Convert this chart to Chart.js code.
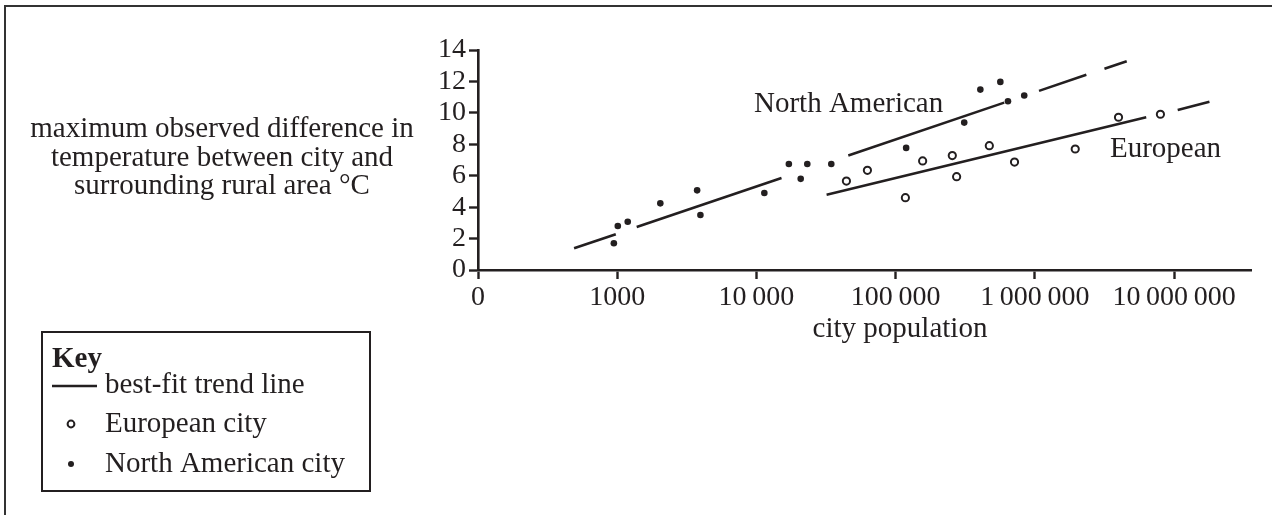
<!DOCTYPE html>
<html><head><meta charset="utf-8">
<script src="https://cdn.jsdelivr.net/npm/chart.js@4.4.0/dist/chart.umd.min.js"></script>
<style>html,body{margin:0;padding:0;background:#fff;}#wrap{position:relative;width:1272px;height:515px;}canvas{display:block}</style>
</head><body><div id="wrap"><canvas id="c" width="1272" height="515"></canvas></div>
<script>
// ---- data ----
const xTickValues = [100, 1000, 10000, 100000, 1000000, 10000000];
const xTickLabels = ['0', '1000', '10\u2009000', '100\u2009000', '1\u2009000\u2009000', '10\u2009000\u2009000'];
const yTickValues = [0, 2, 4, 6, 8, 10, 12, 14];

const naPopulation = [946, 1010, 1190, 2040, 3750, 3960, 11400, 17100, 20800, 23200, 34500, 119000, 311000, 406000, 565000, 641000, 839000];
const naTemp       = [1.70, 2.80, 3.07, 4.24, 5.07, 3.50, 4.90, 6.75, 5.80, 6.75, 6.75, 7.77, 9.38, 11.48, 11.97, 10.74, 11.10];

const euPopulation = [44300, 62700, 117500, 156300, 255300, 274200, 471000, 714500, 1950000, 3990000, 7980000];
const euTemp       = [5.66, 6.34, 4.60, 6.94, 7.28, 5.94, 7.91, 6.87, 7.70, 9.72, 9.91];

// trend line pieces: consecutive pairs are start/end of a drawn piece
const naTrendPopulation = [490, 977, 1380, 15140, 45700, 602600, 1071500, 2344000, 3162000, 4571000];
const naTrendTemp       = [1.38, 2.28, 2.73, 5.85, 7.29, 10.65, 11.40, 12.42, 12.81, 13.29];
const euTrendPopulation = [31920, 6310000, 10620000, 17950000];
const euTrendTemp       = [4.79, 9.72, 10.18, 10.71];

const yTitleLines = ['maximum observed difference in', 'temperature between city and', 'surrounding rural area \u00B0C'];
const xTitle = 'city population';

// ---- styling ----
const ink = '#231f20';
const FONT = "'Liberation Serif', 'Times New Roman', serif";
Chart.defaults.font.family = FONT;
Chart.defaults.font.size = 28;
Chart.defaults.color = ink;

function trendPieces(xs, ys) {
  const out = [];
  for (let i = 0; i + 1 < xs.length; i += 2) {
    out.push({
      data: [{x: xs[i], y: ys[i]}, {x: xs[i + 1], y: ys[i + 1]}],
      showLine: true, borderColor: ink, borderWidth: 2.6, pointRadius: 0,
      borderCapStyle: 'butt', fill: false
    });
  }
  return out;
}

const datasets = [
  ...trendPieces(naTrendPopulation, naTrendTemp),
  ...trendPieces(euTrendPopulation, euTrendTemp),
  {
    label: 'European city',
    data: euPopulation.map((p, i) => ({x: p, y: euTemp[i]})),
    pointRadius: 3.6, pointBorderWidth: 2, pointBackgroundColor: '#fff', pointBorderColor: ink, showLine: false
  },
  {
    label: 'North American city',
    data: naPopulation.map((p, i) => ({x: p, y: naTemp[i]})),
    pointRadius: 3.3, pointBorderWidth: 0, pointBackgroundColor: ink, pointBorderColor: ink, showLine: false
  }
];

const deco = {
  id: 'deco',
  afterDraw(chart) {
    const ctx = chart.ctx;
    ctx.save();
    // outer frame (top and left edges)
    ctx.strokeStyle = '#333'; ctx.lineWidth = 2;
    ctx.beginPath(); ctx.moveTo(5, 515); ctx.lineTo(5, 6); ctx.lineTo(1272, 6); ctx.stroke();

    ctx.fillStyle = ink;
    ctx.font = '29px ' + FONT;
    ctx.textBaseline = 'alphabetic';
    ctx.textAlign = 'center';
    yTitleLines.forEach((t, i) => ctx.fillText(t, 222, 137 + i * 28.5));
    ctx.fillText(xTitle, 900, 337);

    ctx.textAlign = 'left';
    ctx.fillText('North American', 754, 112);
    ctx.fillText('European', 1110, 157);

    // key
    ctx.strokeStyle = ink; ctx.lineWidth = 2;
    ctx.strokeRect(42, 332, 328, 159);
    ctx.font = 'bold 29px ' + FONT;
    ctx.fillText('Key', 52, 367);
    ctx.font = '29px ' + FONT;
    ctx.lineWidth = 2.4;
    ctx.beginPath(); ctx.moveTo(52, 386); ctx.lineTo(97, 386); ctx.stroke();
    ctx.fillText('best-fit trend line', 105, 393);
    ctx.lineWidth = 2;
    ctx.beginPath(); ctx.arc(71, 424, 3.4, 0, Math.PI * 2); ctx.stroke();
    ctx.fillText('European city', 105, 432);
    ctx.beginPath(); ctx.arc(71, 464, 3, 0, Math.PI * 2); ctx.fill();
    ctx.fillText('North American city', 105, 472);
    ctx.restore();
  }
};

new Chart(document.getElementById('c'), {
  type: 'scatter',
  data: {datasets},
  plugins: [deco],
  options: {
    responsive: false,
    animation: false,
    events: [],
    layout: {padding: {left: 418, right: 21, top: 50, bottom: 185}},
    plugins: {legend: {display: false}, tooltip: {enabled: false}},
    scales: {
      x: {
        type: 'logarithmic', position: 'bottom',
        min: 100, max: 35700000,
        afterBuildTicks: s => { s.ticks = xTickValues.map(v => ({value: v})); },
        afterFit: s => { s.height = 60; },
        ticks: {
          autoSkip: false, maxRotation: 0, minRotation: 0, padding: 2, color: ink,
          font: {size: 28, family: FONT},
          callback: (v, i) => xTickLabels[i]
        },
        grid: {drawOnChartArea: false, drawTicks: true, tickLength: 9, tickWidth: 2.4, tickColor: ink},
        border: {display: true, color: ink, width: 2.6}
      },
      y: {
        type: 'linear', position: 'left',
        min: 0, max: 14,
        afterBuildTicks: s => { s.ticks = yTickValues.map(v => ({value: v})); },
        afterFit: s => { s.width = 60; },
        ticks: {autoSkip: false, padding: 3, color: ink, font: {size: 28, family: FONT}, callback: v => String(v)},
        grid: {drawOnChartArea: false, drawTicks: true, tickLength: 9, tickWidth: 2.4, tickColor: ink},
        border: {display: true, color: ink, width: 2.6}
      }
    }
  }
});
</script></body></html>
